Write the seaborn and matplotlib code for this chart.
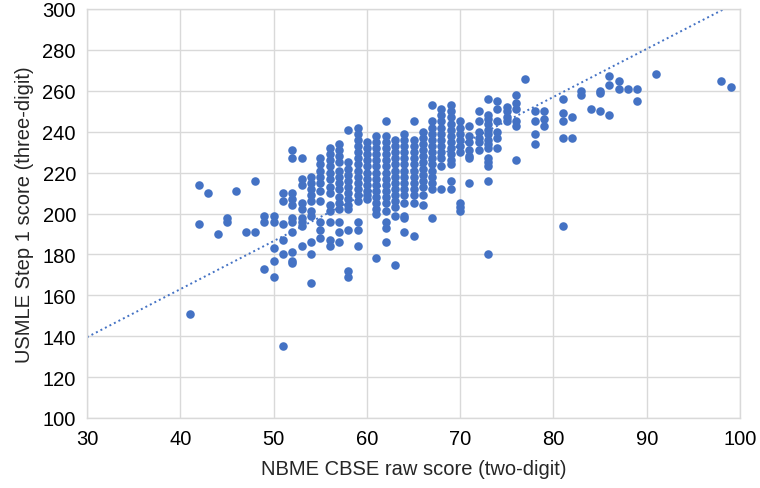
import matplotlib
matplotlib.use("Agg")
import matplotlib.pyplot as plt
import seaborn as sns
import pandas as pd

# ---- data ----
cbse_levels = [41, 42, 43, 44, 45, 46, 47, 48, 49, 50,
               51, 52, 53, 54, 55, 56, 57, 58, 59, 60,
               61, 62, 63, 64, 65, 66, 67, 68, 69, 70,
               71, 72, 73, 74, 75, 76, 77, 78, 79, 81,
               82, 83, 84, 85, 86, 87, 88, 89, 91, 98, 99]

step1_by_level = [
    [151],
    [214, 195],
    [210],
    [190],
    [198, 196],
    [211],
    [191],
    [216, 191],
    [199, 196, 173],
    [199, 196, 183, 177, 169],
    [210, 206, 195, 187, 180, 135],
    [231, 227, 210, 207, 204, 198, 196, 191, 181, 177, 176],
    [227, 217, 214, 205, 202, 198, 196, 194, 184],
    [218, 215, 212, 209, 206, 201, 199, 186, 180, 166],
    [227, 224, 221, 218, 215, 211, 206, 196, 192, 188],
    [232, 229, 226, 223, 220, 217, 213, 210, 204, 201, 196, 187, 184],
    [234, 231, 228, 225, 221, 218, 215, 212, 208, 205, 202, 196, 191, 186],
    [241, 225, 222, 219, 216, 213, 210, 207, 204, 202, 192, 172, 169],
    [242, 239, 236, 233, 230, 227, 224, 221, 218, 215, 212, 209, 206, 196, 192, 184],
    [235, 232, 229, 226, 223, 220, 217, 214, 211, 209, 207],
    [238, 235, 232, 229, 226, 223, 220, 217, 214, 211, 208, 205, 202, 200, 178],
    [245, 238, 235, 232, 229, 226, 223, 220, 217, 214, 211, 208, 205, 201, 196, 193, 186],
    [236, 233, 230, 227, 224, 221, 218, 215, 212, 209, 206, 203, 199, 175],
    [239, 236, 233, 230, 227, 224, 221, 218, 215, 212, 209, 205, 199, 198, 191],
    [245, 236, 233, 230, 227, 224, 221, 218, 215, 212, 209, 205, 189],
    [240, 237, 234, 231, 228, 225, 222, 219, 216, 213, 209, 204],
    [253, 245, 242, 239, 236, 233, 230, 227, 224, 221, 218, 215, 212, 198],
    [251, 248, 245, 242, 239, 236, 233, 230, 227, 223, 212],
    [253, 250, 247, 244, 241, 238, 235, 232, 229, 226, 224, 216, 212],
    [245, 242, 239, 236, 233, 230, 205, 203, 201],
    [243, 238, 235, 231, 228, 227, 215],
    [250, 245, 240, 237, 235, 231],
    [256, 248, 246, 244, 241, 239, 236, 234, 232, 227, 225, 223, 216, 180],
    [255, 251, 245, 240, 237, 232],
    [252, 250, 247, 245],
    [258, 254, 251, 245, 243, 226],
    [266],
    [250, 245, 239, 234],
    [250, 246, 243],
    [256, 249, 245, 237, 194],
    [247, 237],
    [260, 258],
    [251],
    [260, 259, 250],
    [267, 263, 248],
    [265, 261],
    [261],
    [261, 255],
    [268],
    [265],
    [262],
]

# linear trendline
trend_slope = 2.35
trend_intercept = 69.0

x_ticks = [30, 40, 50, 60, 70, 80, 90, 100]
y_ticks = [100, 120, 140, 160, 180, 200, 220, 240, 260, 280, 300]
x_label = "NBME CBSE raw score (two-digit)"
y_label = "USMLE Step 1 score (three-digit)"

# ---- build table ----
rows = []
for lvl, ys in zip(cbse_levels, step1_by_level):
    for yv in ys:
        rows.append((lvl, yv))
df = pd.DataFrame(rows, columns=["cbse", "step1"])

sns.set_theme(style="white")
plt.rcParams["font.family"] = ["Liberation Sans", "DejaVu Sans"]

blue = "#4472C4"
grid = "#D9D9D9"

fig = plt.figure(figsize=(7.6, 4.89), dpi=100)
ax = fig.add_axes([87 / 760, 1 - 419 / 489, (740 - 87) / 760, (419 - 10) / 489])

sns.scatterplot(data=df, x="cbse", y="step1", ax=ax, color=blue,
                s=38, linewidth=0, zorder=3, legend=False)

ax.axline((0, trend_intercept), slope=trend_slope, color=blue,
          linestyle=(0, (1, 1.6)), linewidth=1.4, zorder=2)

ax.set_xlim(30, 100)
ax.set_ylim(100, 300)
ax.set_xticks(x_ticks)
ax.set_yticks(y_ticks)
ax.grid(True, color=grid, linewidth=1.0, zorder=0)
ax.set_axisbelow(True)
for sp in ax.spines.values():
    sp.set_color(grid)
    sp.set_linewidth(1.0)
ax.tick_params(axis="both", length=0, labelsize=14.5, colors="black", pad=8)
ax.set_xlabel(x_label, fontsize=14.5, labelpad=8)
ax.set_ylabel(y_label, fontsize=14.5, labelpad=6)

fig.savefig("out.png", dpi=100)
